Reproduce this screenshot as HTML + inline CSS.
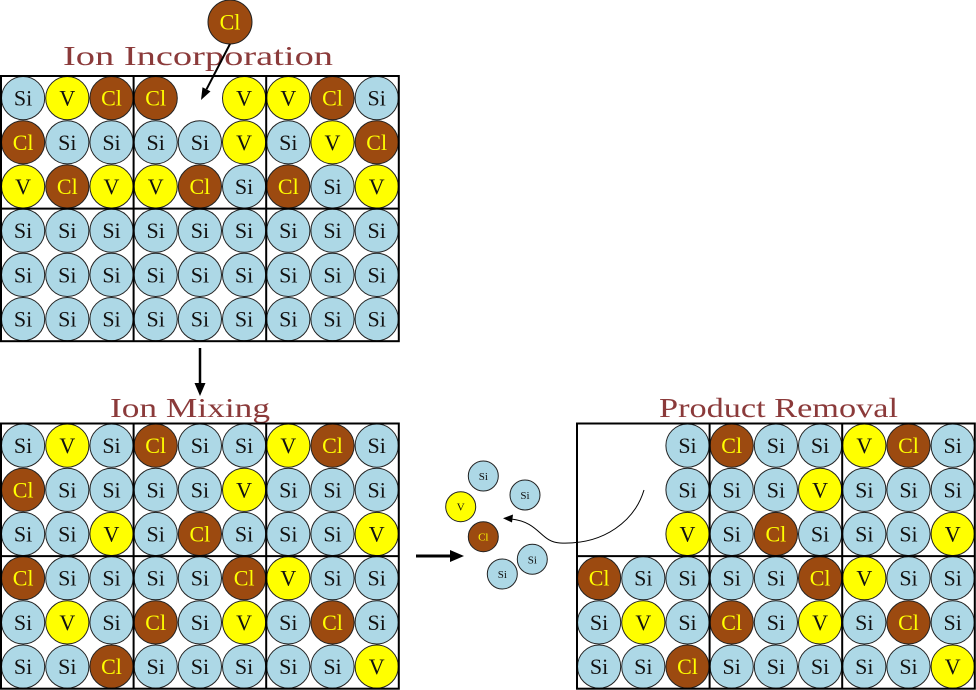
<!DOCTYPE html>
<html><head><meta charset="utf-8">
<style>
html,body{margin:0;padding:0;background:#fff;}
svg{display:block;}
text{font-family:"Liberation Serif","Noto Serif CJK SC",serif;font-size:22px;text-anchor:middle;fill:#111;}
text.y{fill:#ffff00;}
text.t{fill:#8b3a3a;font-size:27px;text-anchor:start;}
text.sm{font-size:11px;}
circle{stroke:#222;stroke-width:1;}
.s{fill:#add8e6;}
.v{fill:#ffff00;}
.c{fill:#9c4a10;}
.g{fill:none;stroke:#000;stroke-width:2;}
</style></head><body>
<svg width="976" height="690" viewBox="0 0 976 690" xmlns="http://www.w3.org/2000/svg">

<!-- Titles -->
<text class="t" x="63" y="65" textLength="270" lengthAdjust="spacingAndGlyphs">Ion Incorporation</text>
<text class="t" x="110" y="417" textLength="160" lengthAdjust="spacingAndGlyphs">Ion Mixing</text>
<text class="t" x="659" y="417" textLength="239" lengthAdjust="spacingAndGlyphs">Product Removal</text>

<!-- incoming Cl -->
<circle cx="230" cy="22" r="22" class="c"/><text x="230" y="29.5" class="y">Cl</text>
<line x1="230" y1="44" x2="206.5" y2="89.3" stroke="#000" stroke-width="2"/>
<polygon points="201,100 210.5,91.4 202.5,87.2" fill="#000"/>

<!-- TOP GRID -->
<g transform="translate(1,76)">
<g transform="translate(0,22.1)">
<circle cx="22.1" r="21.6" class="s"/><text x="22.1" y="7.5">Si</text>
<circle cx="66.3" r="21.6" class="v"/><text x="66.3" y="7.5">V</text>
<circle cx="110.5" r="21.6" class="c"/><text x="110.5" y="7.5" class="y">Cl</text>
<circle cx="154.7" r="21.6" class="c"/><text x="154.7" y="7.5" class="y">Cl</text>
<circle cx="243.1" r="21.6" class="v"/><text x="243.1" y="7.5">V</text>
<circle cx="287.3" r="21.6" class="v"/><text x="287.3" y="7.5">V</text>
<circle cx="331.5" r="21.6" class="c"/><text x="331.5" y="7.5" class="y">Cl</text>
<circle cx="375.7" r="21.6" class="s"/><text x="375.7" y="7.5">Si</text>
</g>
<g transform="translate(0,66.3)">
<circle cx="22.1" r="21.6" class="c"/><text x="22.1" y="7.5" class="y">Cl</text>
<circle cx="66.3" r="21.6" class="s"/><text x="66.3" y="7.5">Si</text>
<circle cx="110.5" r="21.6" class="s"/><text x="110.5" y="7.5">Si</text>
<circle cx="154.7" r="21.6" class="s"/><text x="154.7" y="7.5">Si</text>
<circle cx="198.9" r="21.6" class="s"/><text x="198.9" y="7.5">Si</text>
<circle cx="243.1" r="21.6" class="v"/><text x="243.1" y="7.5">V</text>
<circle cx="287.3" r="21.6" class="s"/><text x="287.3" y="7.5">Si</text>
<circle cx="331.5" r="21.6" class="v"/><text x="331.5" y="7.5">V</text>
<circle cx="375.7" r="21.6" class="c"/><text x="375.7" y="7.5" class="y">Cl</text>
</g>
<g transform="translate(0,110.5)">
<circle cx="22.1" r="21.6" class="v"/><text x="22.1" y="7.5">V</text>
<circle cx="66.3" r="21.6" class="c"/><text x="66.3" y="7.5" class="y">Cl</text>
<circle cx="110.5" r="21.6" class="v"/><text x="110.5" y="7.5">V</text>
<circle cx="154.7" r="21.6" class="v"/><text x="154.7" y="7.5">V</text>
<circle cx="198.9" r="21.6" class="c"/><text x="198.9" y="7.5" class="y">Cl</text>
<circle cx="243.1" r="21.6" class="s"/><text x="243.1" y="7.5">Si</text>
<circle cx="287.3" r="21.6" class="c"/><text x="287.3" y="7.5" class="y">Cl</text>
<circle cx="331.5" r="21.6" class="s"/><text x="331.5" y="7.5">Si</text>
<circle cx="375.7" r="21.6" class="v"/><text x="375.7" y="7.5">V</text>
</g>
<g transform="translate(0,154.7)">
<circle cx="22.1" r="21.6" class="s"/><text x="22.1" y="7.5">Si</text>
<circle cx="66.3" r="21.6" class="s"/><text x="66.3" y="7.5">Si</text>
<circle cx="110.5" r="21.6" class="s"/><text x="110.5" y="7.5">Si</text>
<circle cx="154.7" r="21.6" class="s"/><text x="154.7" y="7.5">Si</text>
<circle cx="198.9" r="21.6" class="s"/><text x="198.9" y="7.5">Si</text>
<circle cx="243.1" r="21.6" class="s"/><text x="243.1" y="7.5">Si</text>
<circle cx="287.3" r="21.6" class="s"/><text x="287.3" y="7.5">Si</text>
<circle cx="331.5" r="21.6" class="s"/><text x="331.5" y="7.5">Si</text>
<circle cx="375.7" r="21.6" class="s"/><text x="375.7" y="7.5">Si</text>
</g>
<g transform="translate(0,198.9)">
<circle cx="22.1" r="21.6" class="s"/><text x="22.1" y="7.5">Si</text>
<circle cx="66.3" r="21.6" class="s"/><text x="66.3" y="7.5">Si</text>
<circle cx="110.5" r="21.6" class="s"/><text x="110.5" y="7.5">Si</text>
<circle cx="154.7" r="21.6" class="s"/><text x="154.7" y="7.5">Si</text>
<circle cx="198.9" r="21.6" class="s"/><text x="198.9" y="7.5">Si</text>
<circle cx="243.1" r="21.6" class="s"/><text x="243.1" y="7.5">Si</text>
<circle cx="287.3" r="21.6" class="s"/><text x="287.3" y="7.5">Si</text>
<circle cx="331.5" r="21.6" class="s"/><text x="331.5" y="7.5">Si</text>
<circle cx="375.7" r="21.6" class="s"/><text x="375.7" y="7.5">Si</text>
</g>
<g transform="translate(0,243.1)">
<circle cx="22.1" r="21.6" class="s"/><text x="22.1" y="7.5">Si</text>
<circle cx="66.3" r="21.6" class="s"/><text x="66.3" y="7.5">Si</text>
<circle cx="110.5" r="21.6" class="s"/><text x="110.5" y="7.5">Si</text>
<circle cx="154.7" r="21.6" class="s"/><text x="154.7" y="7.5">Si</text>
<circle cx="198.9" r="21.6" class="s"/><text x="198.9" y="7.5">Si</text>
<circle cx="243.1" r="21.6" class="s"/><text x="243.1" y="7.5">Si</text>
<circle cx="287.3" r="21.6" class="s"/><text x="287.3" y="7.5">Si</text>
<circle cx="331.5" r="21.6" class="s"/><text x="331.5" y="7.5">Si</text>
<circle cx="375.7" r="21.6" class="s"/><text x="375.7" y="7.5">Si</text>
</g>
<rect x="0" y="0" width="397.8" height="265.2" class="g"/>
<line x1="132.6" y1="0" x2="132.6" y2="265.2" class="g"/>
<line x1="265.2" y1="0" x2="265.2" y2="265.2" class="g"/>
<line x1="0" y1="132.6" x2="397.8" y2="132.6" class="g"/>
</g>

<!-- down arrow -->
<line x1="200" y1="348" x2="200" y2="385" stroke="#000" stroke-width="2.5"/>
<polygon points="194.5,383 205.5,383 200,396" fill="#000"/>

<!-- MIDDLE GRID -->
<g transform="translate(1,423.5)">
<g transform="translate(0,22.1)">
<circle cx="22.1" r="21.6" class="s"/><text x="22.1" y="7.5">Si</text>
<circle cx="66.3" r="21.6" class="v"/><text x="66.3" y="7.5">V</text>
<circle cx="110.5" r="21.6" class="s"/><text x="110.5" y="7.5">Si</text>
<circle cx="154.7" r="21.6" class="c"/><text x="154.7" y="7.5" class="y">Cl</text>
<circle cx="198.9" r="21.6" class="s"/><text x="198.9" y="7.5">Si</text>
<circle cx="243.1" r="21.6" class="s"/><text x="243.1" y="7.5">Si</text>
<circle cx="287.3" r="21.6" class="v"/><text x="287.3" y="7.5">V</text>
<circle cx="331.5" r="21.6" class="c"/><text x="331.5" y="7.5" class="y">Cl</text>
<circle cx="375.7" r="21.6" class="s"/><text x="375.7" y="7.5">Si</text>
</g>
<g transform="translate(0,66.3)">
<circle cx="22.1" r="21.6" class="c"/><text x="22.1" y="7.5" class="y">Cl</text>
<circle cx="66.3" r="21.6" class="s"/><text x="66.3" y="7.5">Si</text>
<circle cx="110.5" r="21.6" class="s"/><text x="110.5" y="7.5">Si</text>
<circle cx="154.7" r="21.6" class="s"/><text x="154.7" y="7.5">Si</text>
<circle cx="198.9" r="21.6" class="s"/><text x="198.9" y="7.5">Si</text>
<circle cx="243.1" r="21.6" class="v"/><text x="243.1" y="7.5">V</text>
<circle cx="287.3" r="21.6" class="s"/><text x="287.3" y="7.5">Si</text>
<circle cx="331.5" r="21.6" class="s"/><text x="331.5" y="7.5">Si</text>
<circle cx="375.7" r="21.6" class="s"/><text x="375.7" y="7.5">Si</text>
</g>
<g transform="translate(0,110.5)">
<circle cx="22.1" r="21.6" class="s"/><text x="22.1" y="7.5">Si</text>
<circle cx="66.3" r="21.6" class="s"/><text x="66.3" y="7.5">Si</text>
<circle cx="110.5" r="21.6" class="v"/><text x="110.5" y="7.5">V</text>
<circle cx="154.7" r="21.6" class="s"/><text x="154.7" y="7.5">Si</text>
<circle cx="198.9" r="21.6" class="c"/><text x="198.9" y="7.5" class="y">Cl</text>
<circle cx="243.1" r="21.6" class="s"/><text x="243.1" y="7.5">Si</text>
<circle cx="287.3" r="21.6" class="s"/><text x="287.3" y="7.5">Si</text>
<circle cx="331.5" r="21.6" class="s"/><text x="331.5" y="7.5">Si</text>
<circle cx="375.7" r="21.6" class="v"/><text x="375.7" y="7.5">V</text>
</g>
<g transform="translate(0,154.7)">
<circle cx="22.1" r="21.6" class="c"/><text x="22.1" y="7.5" class="y">Cl</text>
<circle cx="66.3" r="21.6" class="s"/><text x="66.3" y="7.5">Si</text>
<circle cx="110.5" r="21.6" class="s"/><text x="110.5" y="7.5">Si</text>
<circle cx="154.7" r="21.6" class="s"/><text x="154.7" y="7.5">Si</text>
<circle cx="198.9" r="21.6" class="s"/><text x="198.9" y="7.5">Si</text>
<circle cx="243.1" r="21.6" class="c"/><text x="243.1" y="7.5" class="y">Cl</text>
<circle cx="287.3" r="21.6" class="v"/><text x="287.3" y="7.5">V</text>
<circle cx="331.5" r="21.6" class="s"/><text x="331.5" y="7.5">Si</text>
<circle cx="375.7" r="21.6" class="s"/><text x="375.7" y="7.5">Si</text>
</g>
<g transform="translate(0,198.9)">
<circle cx="22.1" r="21.6" class="s"/><text x="22.1" y="7.5">Si</text>
<circle cx="66.3" r="21.6" class="v"/><text x="66.3" y="7.5">V</text>
<circle cx="110.5" r="21.6" class="s"/><text x="110.5" y="7.5">Si</text>
<circle cx="154.7" r="21.6" class="c"/><text x="154.7" y="7.5" class="y">Cl</text>
<circle cx="198.9" r="21.6" class="s"/><text x="198.9" y="7.5">Si</text>
<circle cx="243.1" r="21.6" class="v"/><text x="243.1" y="7.5">V</text>
<circle cx="287.3" r="21.6" class="s"/><text x="287.3" y="7.5">Si</text>
<circle cx="331.5" r="21.6" class="c"/><text x="331.5" y="7.5" class="y">Cl</text>
<circle cx="375.7" r="21.6" class="s"/><text x="375.7" y="7.5">Si</text>
</g>
<g transform="translate(0,243.1)">
<circle cx="22.1" r="21.6" class="s"/><text x="22.1" y="7.5">Si</text>
<circle cx="66.3" r="21.6" class="s"/><text x="66.3" y="7.5">Si</text>
<circle cx="110.5" r="21.6" class="c"/><text x="110.5" y="7.5" class="y">Cl</text>
<circle cx="154.7" r="21.6" class="s"/><text x="154.7" y="7.5">Si</text>
<circle cx="198.9" r="21.6" class="s"/><text x="198.9" y="7.5">Si</text>
<circle cx="243.1" r="21.6" class="s"/><text x="243.1" y="7.5">Si</text>
<circle cx="287.3" r="21.6" class="s"/><text x="287.3" y="7.5">Si</text>
<circle cx="331.5" r="21.6" class="s"/><text x="331.5" y="7.5">Si</text>
<circle cx="375.7" r="21.6" class="v"/><text x="375.7" y="7.5">V</text>
</g>
<rect x="0" y="0" width="397.8" height="265.2" class="g"/>
<line x1="132.6" y1="0" x2="132.6" y2="265.2" class="g"/>
<line x1="265.2" y1="0" x2="265.2" y2="265.2" class="g"/>
<line x1="0" y1="132.6" x2="397.8" y2="132.6" class="g"/>
</g>

<!-- right arrow -->
<line x1="416" y1="556" x2="452" y2="556" stroke="#000" stroke-width="3"/>
<polygon points="450,550 450,562 464,556" fill="#000"/>

<!-- ejected particles -->
<circle cx="483.3" cy="476" r="15" class="s"/><text class="sm" x="483.3" y="480">Si</text>
<circle cx="525" cy="495" r="15" class="s"/><text class="sm" x="525" y="499">Si</text>
<circle cx="460.7" cy="506.7" r="15" class="v"/><text class="sm" x="460.7" y="510.7">V</text>
<circle cx="483.3" cy="536.7" r="15" class="c"/><text class="sm y" x="483.3" y="540.7">Cl</text>
<circle cx="532.3" cy="559.3" r="15" class="s"/><text class="sm" x="532.3" y="563.3">Si</text>
<circle cx="502.3" cy="574" r="15" class="s"/><text class="sm" x="502.3" y="578">Si</text>

<!-- curved arrow -->
<path d="M644,490 C635,520 605,545 560,543 C540,542 540,522 511,519" fill="none" stroke="#000" stroke-width="1"/>
<polygon points="503,518.3 513,514.5 512,522.5" fill="#000"/>

<!-- RIGHT GRID -->
<g transform="translate(577,423.5)">
<g transform="translate(0,22.1)">
<circle cx="110.5" r="21.6" class="s"/><text x="110.5" y="7.5">Si</text>
<circle cx="154.7" r="21.6" class="c"/><text x="154.7" y="7.5" class="y">Cl</text>
<circle cx="198.9" r="21.6" class="s"/><text x="198.9" y="7.5">Si</text>
<circle cx="243.1" r="21.6" class="s"/><text x="243.1" y="7.5">Si</text>
<circle cx="287.3" r="21.6" class="v"/><text x="287.3" y="7.5">V</text>
<circle cx="331.5" r="21.6" class="c"/><text x="331.5" y="7.5" class="y">Cl</text>
<circle cx="375.7" r="21.6" class="s"/><text x="375.7" y="7.5">Si</text>
</g>
<g transform="translate(0,66.3)">
<circle cx="110.5" r="21.6" class="s"/><text x="110.5" y="7.5">Si</text>
<circle cx="154.7" r="21.6" class="s"/><text x="154.7" y="7.5">Si</text>
<circle cx="198.9" r="21.6" class="s"/><text x="198.9" y="7.5">Si</text>
<circle cx="243.1" r="21.6" class="v"/><text x="243.1" y="7.5">V</text>
<circle cx="287.3" r="21.6" class="s"/><text x="287.3" y="7.5">Si</text>
<circle cx="331.5" r="21.6" class="s"/><text x="331.5" y="7.5">Si</text>
<circle cx="375.7" r="21.6" class="s"/><text x="375.7" y="7.5">Si</text>
</g>
<g transform="translate(0,110.5)">
<circle cx="110.5" r="21.6" class="v"/><text x="110.5" y="7.5">V</text>
<circle cx="154.7" r="21.6" class="s"/><text x="154.7" y="7.5">Si</text>
<circle cx="198.9" r="21.6" class="c"/><text x="198.9" y="7.5" class="y">Cl</text>
<circle cx="243.1" r="21.6" class="s"/><text x="243.1" y="7.5">Si</text>
<circle cx="287.3" r="21.6" class="s"/><text x="287.3" y="7.5">Si</text>
<circle cx="331.5" r="21.6" class="s"/><text x="331.5" y="7.5">Si</text>
<circle cx="375.7" r="21.6" class="v"/><text x="375.7" y="7.5">V</text>
</g>
<g transform="translate(0,154.7)">
<circle cx="22.1" r="21.6" class="c"/><text x="22.1" y="7.5" class="y">Cl</text>
<circle cx="66.3" r="21.6" class="s"/><text x="66.3" y="7.5">Si</text>
<circle cx="110.5" r="21.6" class="s"/><text x="110.5" y="7.5">Si</text>
<circle cx="154.7" r="21.6" class="s"/><text x="154.7" y="7.5">Si</text>
<circle cx="198.9" r="21.6" class="s"/><text x="198.9" y="7.5">Si</text>
<circle cx="243.1" r="21.6" class="c"/><text x="243.1" y="7.5" class="y">Cl</text>
<circle cx="287.3" r="21.6" class="v"/><text x="287.3" y="7.5">V</text>
<circle cx="331.5" r="21.6" class="s"/><text x="331.5" y="7.5">Si</text>
<circle cx="375.7" r="21.6" class="s"/><text x="375.7" y="7.5">Si</text>
</g>
<g transform="translate(0,198.9)">
<circle cx="22.1" r="21.6" class="s"/><text x="22.1" y="7.5">Si</text>
<circle cx="66.3" r="21.6" class="v"/><text x="66.3" y="7.5">V</text>
<circle cx="110.5" r="21.6" class="s"/><text x="110.5" y="7.5">Si</text>
<circle cx="154.7" r="21.6" class="c"/><text x="154.7" y="7.5" class="y">Cl</text>
<circle cx="198.9" r="21.6" class="s"/><text x="198.9" y="7.5">Si</text>
<circle cx="243.1" r="21.6" class="v"/><text x="243.1" y="7.5">V</text>
<circle cx="287.3" r="21.6" class="s"/><text x="287.3" y="7.5">Si</text>
<circle cx="331.5" r="21.6" class="c"/><text x="331.5" y="7.5" class="y">Cl</text>
<circle cx="375.7" r="21.6" class="s"/><text x="375.7" y="7.5">Si</text>
</g>
<g transform="translate(0,243.1)">
<circle cx="22.1" r="21.6" class="s"/><text x="22.1" y="7.5">Si</text>
<circle cx="66.3" r="21.6" class="s"/><text x="66.3" y="7.5">Si</text>
<circle cx="110.5" r="21.6" class="c"/><text x="110.5" y="7.5" class="y">Cl</text>
<circle cx="154.7" r="21.6" class="s"/><text x="154.7" y="7.5">Si</text>
<circle cx="198.9" r="21.6" class="s"/><text x="198.9" y="7.5">Si</text>
<circle cx="243.1" r="21.6" class="s"/><text x="243.1" y="7.5">Si</text>
<circle cx="287.3" r="21.6" class="s"/><text x="287.3" y="7.5">Si</text>
<circle cx="331.5" r="21.6" class="s"/><text x="331.5" y="7.5">Si</text>
<circle cx="375.7" r="21.6" class="v"/><text x="375.7" y="7.5">V</text>
</g>
<rect x="0" y="0" width="397.8" height="265.2" class="g"/>
<line x1="132.6" y1="0" x2="132.6" y2="265.2" class="g"/>
<line x1="265.2" y1="0" x2="265.2" y2="265.2" class="g"/>
<line x1="0" y1="132.6" x2="397.8" y2="132.6" class="g"/>
</g>

</svg>
</body></html>
